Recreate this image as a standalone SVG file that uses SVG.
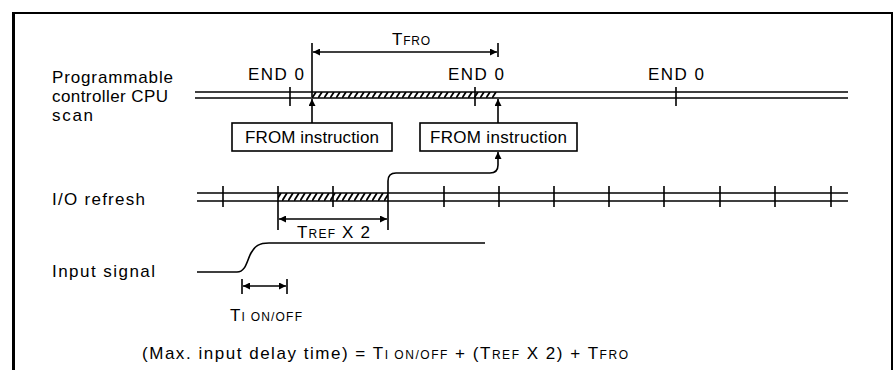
<svg xmlns="http://www.w3.org/2000/svg" width="895" height="370" viewBox="0 0 895 370">
<style>
  text { font-family: "Liberation Sans", Arial, Helvetica, sans-serif; font-size: 17px; fill: #000; }
  .sub { font-size: 12px; }
  .ln { stroke: #000; stroke-width: 1.6; fill: none; }
  .tk { stroke: #000; stroke-width: 1.6; fill: none; }
  .box { stroke: #000; stroke-width: 1.6; fill: #fff; }
  .arr { stroke: #000; stroke-width: 1.6; fill: none; marker-end: url(#ah); }
  .dim { stroke: #000; stroke-width: 1.4; fill: none; marker-start: url(#ah); marker-end: url(#ah); }
</style>
<defs>
  <marker id="ah" viewBox="0 0 10 10" refX="10" refY="5" markerWidth="9" markerHeight="7" markerUnits="userSpaceOnUse" orient="auto-start-reverse">
    <path d="M0,0 L10,5 L0,10 z" fill="#000"/>
  </marker>
  <pattern id="hatchA" patternUnits="userSpaceOnUse" x="0" y="92" width="6" height="6">
    <path d="M0,6 L4,0" stroke="#000" stroke-width="1.8"/>
  </pattern>
  <pattern id="hatchB" patternUnits="userSpaceOnUse" x="0" y="193" width="6" height="8">
    <path d="M0,8 L5,0" stroke="#000" stroke-width="1.8"/>
  </pattern>
</defs>
<rect width="895" height="370" fill="#fff"/>
<g id="frame">
  <line x1="12" y1="13" x2="893" y2="13" stroke="#000" stroke-width="2"/>
  <line x1="13.5" y1="12" x2="13.5" y2="370" stroke="#000" stroke-width="3"/>
  <line x1="892" y1="12" x2="892" y2="370" stroke="#000" stroke-width="2"/>
</g>
<g id="labels">
  <text x="52" y="83" textLength="121" lengthAdjust="spacing">Programmable</text>
  <text x="52" y="102" textLength="116" lengthAdjust="spacing">controller CPU</text>
  <text x="52" y="121" textLength="41" lengthAdjust="spacing">scan</text>
  <text x="52" y="205" textLength="93" lengthAdjust="spacing">I/O refresh</text>
  <text x="52" y="277" textLength="103" lengthAdjust="spacing">Input signal</text>
</g>
<g id="cpu-scan">
  <rect x="312" y="92" width="186" height="6" fill="url(#hatchA)"/>
  <line class="ln" x1="195" y1="92" x2="848" y2="92"/>
  <line class="ln" x1="195" y1="98" x2="848" y2="98"/>
  <line class="tk" x1="290" y1="87" x2="290" y2="106"/>
  <line class="tk" x1="475" y1="87" x2="475" y2="106"/>
  <line class="tk" x1="676" y1="87" x2="676" y2="106"/>
  <text x="248" y="80" textLength="56" lengthAdjust="spacing">END 0</text>
  <text x="448" y="80" textLength="56" lengthAdjust="spacing">END 0</text>
  <text x="648" y="80" textLength="56" lengthAdjust="spacing">END 0</text>
</g>
<g id="io-refresh">
  <rect x="278" y="193" width="110" height="8" fill="url(#hatchB)"/>
  <line class="ln" x1="197" y1="193" x2="848" y2="193"/>
  <line class="ln" x1="197" y1="201" x2="848" y2="201"/>
  <path class="tk" d="M223,186V207M278,186V207M333,186V207M388,186V207M444,186V207M499,186V207M554,186V207M609,186V207M664,186V207M720,186V207M775,186V207M831,186V207"/>
</g>
<g id="input-signal">
  <path class="ln" d="M197,272 H237 C246,272 247,260 251,253 C255,246 259,243 269,243 H485"/>
</g>
<g id="from-box-1">
  <rect class="box" x="232" y="123" width="160" height="28"/>
  <text x="245" y="143" textLength="134" lengthAdjust="spacing">FROM instruction</text>
</g>
<g id="from-box-2">
  <rect class="box" x="420" y="123" width="157" height="28"/>
  <text x="430" y="143" textLength="137" lengthAdjust="spacing">FROM instruction</text>
</g>
<g id="connectors">
  <line class="arr" x1="312" y1="123" x2="312" y2="99"/>
  <line class="arr" x1="498" y1="123" x2="498" y2="99"/>
  <path class="arr" d="M388,186 V181 Q388,173 396,173 H490 Q498,173 498,165 V152"/>
  <line class="tk" x1="312" y1="43" x2="312" y2="97"/>
  <line class="tk" x1="498" y1="43" x2="498" y2="57"/>
  <line class="dim" x1="313" y1="52" x2="497" y2="52"/>
  <line class="tk" x1="278" y1="207" x2="278" y2="230"/>
  <line class="tk" x1="388" y1="207" x2="388" y2="230"/>
  <line class="dim" x1="279" y1="219" x2="387" y2="219"/>
  <line class="tk" x1="242" y1="279" x2="242" y2="294"/>
  <line class="tk" x1="287" y1="279" x2="287" y2="294"/>
  <line class="dim" x1="243" y1="286" x2="286" y2="286"/>
</g>
<g id="dim-labels">
  <text x="392" y="45" textLength="38" lengthAdjust="spacing">T<tspan class="sub">FRO</tspan></text>
  <text x="297" y="238" textLength="73" lengthAdjust="spacing">T<tspan class="sub">REF</tspan> X 2</text>
  <text x="230" y="321" textLength="72" lengthAdjust="spacing">T<tspan class="sub">I ON/OFF</tspan></text>
</g>
<g id="formula">
  <text x="142" y="359" textLength="486" lengthAdjust="spacing">(Max. input delay time) = T<tspan class="sub">I ON/OFF</tspan> + (T<tspan class="sub">REF</tspan> X 2) + T<tspan class="sub">FRO</tspan></text>
</g>
</svg>
